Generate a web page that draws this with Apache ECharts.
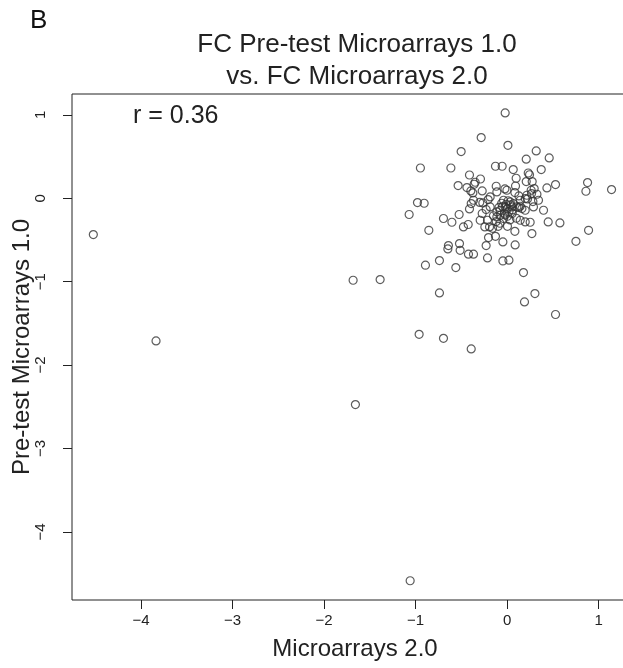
<!DOCTYPE html>
<html>
<head>
<meta charset="utf-8">
<script src="https://cdn.jsdelivr.net/npm/echarts@6/dist/echarts.min.js"></script>
<style>
html,body{margin:0;padding:0;background:#fff;}
#chart{width:623px;height:668px;}
</style>
</head>
<body>
<div id="chart"></div>
<script>
// Tick values
var xTicks = [-4, -3, -2, -1, 0, 1];
var yTicks = [-4, -3, -2, -1, 0, 1];

// Fold changes: Microarrays 2.0 (x) vs Pre-test Microarrays 1.0 (y)
var fcMicro20 = [
  -4.521, -3.836, -1.683, -1.388, -1.658, -0.962, -0.696, -0.393, 0.189, 0.528, -1.060,
  -0.022, -0.284, 0.008, -0.503, 0.317, 0.459, 0.208, -0.948, -0.615, -0.128,
  -0.055, 0.066, 0.372, 0.230, 0.244, -0.412, -0.292, 0.098, 0.878, -0.536,
  -0.350, -0.361, -0.440, -0.120, -0.025, -0.003, 0.091, 0.208, 0.273, 0.295,
  0.434, 0.528, 0.860, 1.140, -0.397, -0.375, -0.273, -0.186, -0.208, -0.113,
  0.084, 0.128, 0.215, 0.266, 0.325, 0.342, -0.980, -0.907, -0.368, -0.393,
  -0.266, -0.040, -0.011, 0.033, 0.069, 0.142, 0.128, 0.222, 0.281, -1.071,
  -0.412, -0.230, -0.186, -0.113, -0.077, -0.273, 0.287, 0.397, -0.696, -0.525,
  -0.604, -0.295, -0.215, -0.113, -0.077, -0.040, 0.003, 0.055, 0.142, 0.197,
  0.251, 0.448, 0.576, -0.856, -0.478, -0.426, -0.244, -0.193, -0.098, 0.003,
  0.084, 0.270, 0.889, -0.204, -0.128, 0.751, -0.642, -0.648, -0.521, -0.514,
  -0.230, -0.047, 0.087, -0.423, -0.368, -0.215, -0.047, 0.019, -0.893, -0.740,
  -0.561, 0.178, -0.740, 0.303,
  0.262, 0.142, 0.197, -0.022, 0.051, 0.106, 0.161, 0.197,
  -0.05, 0.00, 0.02, -0.03, 0.04, -0.06, 0.01, -0.09, 0.06, -0.02, 0.03, -0.12,
  -0.08, -0.15, -0.16, 0.10, -0.30
];
var fcPreTest10 = [
  -0.435, -1.711, -0.983, -0.975, -2.474, -1.631, -1.679, -1.807, -1.243, -1.394, -4.586,
  1.023, 0.728, 0.635, 0.560, 0.567, 0.483, 0.468, 0.363, 0.363, 0.384,
  0.384, 0.344, 0.344, 0.303, 0.282, 0.279, 0.231, 0.240, 0.188, 0.152,
  0.192, 0.168, 0.128, 0.144, 0.112, 0.096, 0.147, 0.200, 0.200, 0.116,
  0.124, 0.164, 0.084, 0.104, 0.088, 0.064, 0.088, 0.016, -0.016, 0.076,
  0.068, 0.028, 0.036, 0.056, 0.048, -0.024, -0.052, -0.060, -0.024, -0.064,
  -0.056, -0.024, -0.072, -0.044, -0.064, -0.096, -0.112, -0.008, -0.040, -0.195,
  -0.128, -0.135, -0.104, -0.164, -0.144, -0.183, -0.104, -0.144, -0.243, -0.195,
  -0.288, -0.264, -0.264, -0.224, -0.204, -0.243, -0.216, -0.183, -0.264, -0.284,
  -0.288, -0.284, -0.296, -0.384, -0.344, -0.315, -0.344, -0.344, -0.336, -0.336,
  -0.396, -0.423, -0.384, -0.471, -0.456, -0.516, -0.567, -0.608, -0.543, -0.624,
  -0.567, -0.524, -0.560, -0.671, -0.671, -0.716, -0.752, -0.743, -0.803, -0.747,
  -0.831, -0.891, -1.135, -1.143,
  0.096, -0.024, -0.004, -0.104, -0.104, -0.104, -0.124, -0.144,
  -0.10, -0.13, -0.16, -0.18, -0.08, -0.06, -0.03, -0.11, -0.14, -0.20, -0.26, -0.28,
  -0.30, -0.21, -0.36, -0.24, -0.05
];

var points = fcMicro20.map(function (x, i) { return [x, fcPreTest10[i]]; });

var FONT = '"Liberation Sans", Arial, sans-serif';
function minusFmt(v) { return v < 0 ? '\u2212' + Math.abs(v) : String(v); }

var chart = echarts.init(document.getElementById('chart'), null, { renderer: 'canvas' });
chart.setOption({
  backgroundColor: '#ffffff',
  animation: false,
  grid: {
    left: 72, right: -15, top: 94, bottom: 68,
    containLabel: false, outerBoundsMode: 'none',
    show: true, borderColor: '#222', borderWidth: 1, backgroundColor: 'transparent'
  },
  xAxis: {
    type: 'value', min: -4.754, max: 1.429,
    name: 'Microarrays 2.0', nameLocation: 'middle', nameGap: 37,
    nameTextStyle: { fontFamily: FONT, fontSize: 24, color: '#222' },
    axisLine: { show: false, onZero: false },
    axisTick: { show: true, customValues: xTicks, length: 9, lineStyle: { color: '#222', width: 1 } },
    axisLabel: { customValues: xTicks, formatter: minusFmt, margin: 13, fontFamily: FONT, fontSize: 15, color: '#222' },
    splitLine: { show: false }
  },
  yAxis: {
    type: 'value', min: -4.817, max: 1.25,
    name: 'Pre-test Microarrays 1.0', nameLocation: 'middle', nameGap: 38, nameRotate: 90,
    nameMoveOverlap: false,
    nameTextStyle: { fontFamily: FONT, fontSize: 24, color: '#222' },
    axisLine: { show: false, onZero: false },
    axisTick: { show: true, customValues: yTicks, length: 9, lineStyle: { color: '#222', width: 1 } },
    axisLabel: { customValues: yTicks, formatter: minusFmt, rotate: 90, margin: 24, fontFamily: FONT, fontSize: 15, color: '#222' },
    splitLine: { show: false }
  },
  graphic: [
    { type: 'text', left: 30, top: 8, style: { text: 'B', font: '26px ' + FONT, fill: '#111' } },
    { type: 'text', x: 357, y: 45, style: { text: 'FC Pre-test Microarrays 1.0', font: '26px ' + FONT, fill: '#222', textAlign: 'center', textVerticalAlign: 'middle' } },
    { type: 'text', x: 357, y: 77, style: { text: 'vs. FC Microarrays 2.0', font: '26px ' + FONT, fill: '#222', textAlign: 'center', textVerticalAlign: 'middle' } },
    { type: 'text', x: 133, y: 116, style: { text: 'r = 0.36', font: '25px ' + FONT, fill: '#222', textAlign: 'left', textVerticalAlign: 'middle' } }
  ],
  series: [{
    type: 'scatter',
    data: points,
    symbol: 'circle',
    symbolSize: 8,
    itemStyle: { color: 'rgba(0,0,0,0)', borderColor: '#333', borderWidth: 1.2 },
    emphasis: { disabled: true }
  }]
});
</script>
</body>
</html>
